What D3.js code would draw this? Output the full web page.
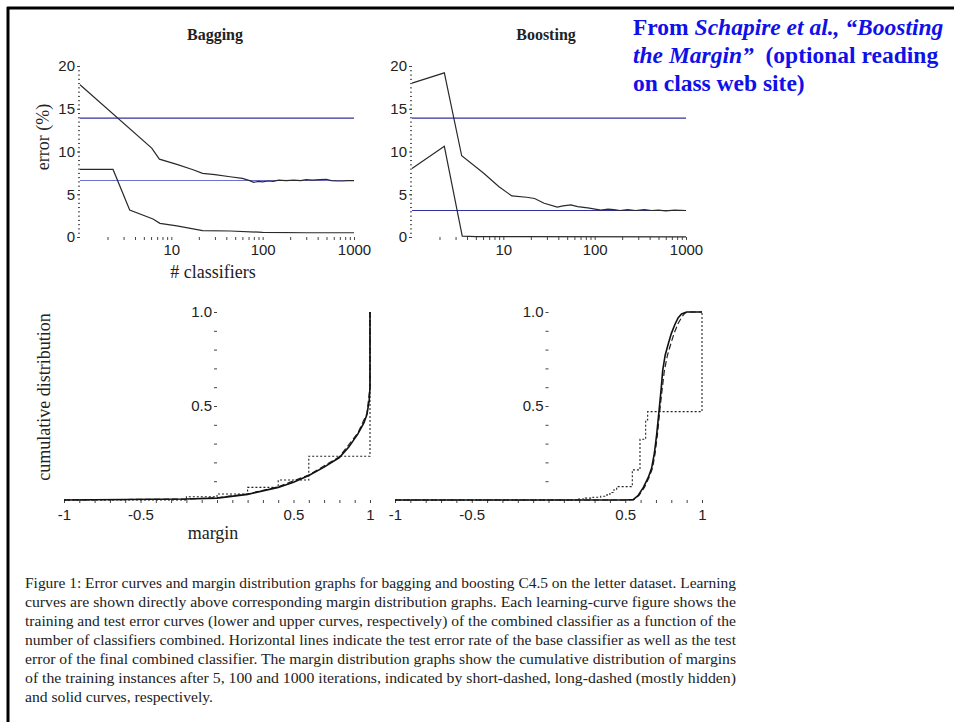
<!DOCTYPE html>
<meta charset="utf-8">
<style>
body { margin: 0; background: #fff; }
.tick text { font-family: "Liberation Sans", Arial, sans-serif; font-size: 15px; fill: #222; }
.tick line { stroke: #444; }
.serif { font-family: "Liberation Serif", "Times New Roman", serif; fill: #222; }
</style>
<body>
<script src="https://d3js.org/d3.v7.min.js"></script>
<script>

const width = 954
const height = 722

// learning curves: [number of classifiers, error %]
const baggingTest = [[1,17.8],[6.1,10.4],[7.4,9.1],[11.5,8.5],[17,7.9],[22,7.45],[30,7.3],[44,7.05],[60,6.85],[72,6.6],[80,6.4],[90,6.5],[100,6.45],[115,6.55],[130,6.5],[150,6.65],[180,6.6],[220,6.65],[260,6.6],[300,6.7],[350,6.65],[420,6.7],[500,6.75],[560,6.6],[650,6.55],[750,6.55],[850,6.6],[1000,6.6]]
const baggingTrain = [[1,7.9],[2.3,7.9],[3.5,3.15],[6.3,2.1],[7.5,1.6],[11.5,1.3],[22,0.75],[44,0.7],[100,0.55],[300,0.5],[1000,0.5]]
const boostingTest = [[1,18],[2.26,19.2],[3.5,9.5],[6.1,7.45],[8.9,5.9],[12.4,4.8],[18,4.65],[22,4.5],[28,3.95],[39,3.5],[45,3.65],[55,3.75],[65,3.55],[84,3.4],[117,3.15],[140,3.25],[162,3.2],[190,3.1],[230,3.2],[280,3.1],[350,3.2],[420,3.1],[500,3.15],[600,3.05],[750,3.15],[1000,3.1]]
const boostingTrain = [[1,8],[2.26,10.6],[3.55,0.1],[5,0.05],[1000,0.02]]

// horizontal reference lines (base classifier, final combined classifier)
const baggingRefs = [13.9, 6.6]
const boostingRefs = [13.9, 3.1]

// margin distributions: [margin, cumulative fraction]
const baggingIter5 = [[-1,0],[-0.2,0.017],[0,0.032],[0.2,0.067],[0.4,0.106],[0.6,0.233],[1,1]]
const baggingIter100 = [[-1,0],[-0.2,0.005],[0,0.012],[0.2,0.032],[0.4,0.07],[0.6,0.133],[0.8,0.23],[0.92,0.355],[0.98,0.46],[1,0.6],[1,1]]
const baggingIter1000 = [[-1,0],[-0.2,0.005],[0,0.01],[0.2,0.03],[0.4,0.067],[0.5,0.095],[0.6,0.13],[0.7,0.175],[0.8,0.226],[0.86,0.28],[0.92,0.35],[0.96,0.41],[0.98,0.455],[0.995,0.53],[1,0.6],[1,1]]
const boostingIter5 = [[-1,0],[0.18,0.005],[0.24,0.01],[0.29,0.015],[0.34,0.02],[0.38,0.027],[0.40,0.04],[0.42,0.053],[0.444,0.071],[0.546,0.16],[0.596,0.323],[0.633,0.426],[0.646,0.47],[1,1]]
const boostingIter100 = [[-1,0],[0.5,0],[0.555,0.002],[0.59,0.025],[0.625,0.067],[0.655,0.12],[0.678,0.17],[0.695,0.25],[0.71,0.35],[0.727,0.49],[0.742,0.6],[0.755,0.69],[0.775,0.77],[0.8,0.84],[0.82,0.89],[0.845,0.94],[0.87,0.975],[0.89,0.995],[0.915,1],[1,1]]
const boostingIter1000 = [[-1,0],[0.5,0],[0.552,0.002],[0.585,0.025],[0.618,0.067],[0.65,0.12],[0.672,0.17],[0.69,0.25],[0.705,0.35],[0.722,0.49],[0.735,0.6],[0.744,0.69],[0.76,0.77],[0.78,0.83],[0.8,0.885],[0.824,0.935],[0.845,0.97],[0.867,0.99],[0.9,1],[1,1]]

const errorTicks = [0, 5, 10, 15, 20]
const countTicks = [10, 100, 1000]
const marginTicks = [-1, -0.5, 0.5, 1]
const cdfTicks = [0.5, 1.0]

const caption = [
  "Figure 1: Error curves and margin distribution graphs for bagging and boosting C4.5 on the letter dataset.  Learning",
  "curves are shown directly above corresponding margin distribution graphs.  Each learning-curve figure shows the",
  "training and test error curves (lower and upper curves, respectively) of the combined classifier as a function of the",
  "number of classifiers combined.  Horizontal lines indicate the test error rate of the base classifier as well as the test",
  "error of the final combined classifier.  The margin distribution graphs show the cumulative distribution of margins",
  "of the training instances after 5, 100 and 1000 iterations, indicated by short-dashed, long-dashed (mostly hidden)",
  "and solid curves, respectively."
]

const svg = d3.select("body").append("svg")
  .attr("width", width)
  .attr("height", height)

// slide frame
svg.append("line").attr("x1", 7).attr("x2", width).attr("y1", 8).attr("y2", 8)
  .attr("stroke", "#000").attr("stroke-width", 3)
svg.append("line").attr("x1", 8).attr("x2", 8).attr("y1", 7).attr("y2", height)
  .attr("stroke", "#000").attr("stroke-width", 3)

// scales
const yErr = d3.scaleLinear().domain([0, 20]).range([237, 66])
const yCdf = d3.scaleLinear().domain([0, 1]).range([500, 312])
const xBagN = d3.scaleLog().domain([1, 1000]).range([80, 354])
const xBoostN = d3.scaleLog().domain([1, 1000]).range([412, 686])
const xBagM = d3.scaleLinear().domain([-1, 1]).range([64, 370])
const xBoostM = d3.scaleLinear().domain([-1, 1]).range([395, 702])

const logMinor = []
for (const dec of [1, 10, 100]) for (let k = 2; k <= 9; k++) logMinor.push(dec * k)

function learningPanel(x, test, train, refs, refColors) {
  const g = svg.append("g")
  // y axis: dotted minor ticks + labelled majors
  g.append("g").attr("transform", `translate(${x.range()[0]},0)`)
    .call(d3.axisLeft(yErr).tickValues(d3.range(0, 20.01, 0.5)).tickSize(2).tickFormat(""))
    .call(a => a.select(".domain").remove())
  g.append("g").attr("transform", `translate(${x.range()[0]},0)`)
    .call(d3.axisLeft(yErr).tickValues(errorTicks).tickSize(3).tickPadding(2).tickFormat(d3.format("d")))
    .call(a => a.select(".domain").remove())
  // x axis: log ticks
  g.append("g").attr("transform", `translate(0,${yErr(0)})`)
    .call(d3.axisBottom(x).tickValues(logMinor).tickSize(3).tickFormat(""))
    .call(a => a.select(".domain").remove())
  g.append("g").attr("transform", `translate(0,${yErr(0)})`)
    .call(d3.axisBottom(x).tickValues(countTicks).tickSize(3).tickPadding(4).tickFormat(d3.format("d")))
    .call(a => a.select(".domain").remove())

  g.selectAll(".ref").data(refs).enter().append("line")
    .attr("x1", x(1)).attr("x2", x(1000))
    .attr("y1", d => yErr(d)).attr("y2", d => yErr(d))
    .attr("stroke", (d, i) => refColors[i]).attr("stroke-width", 1.1)

  const line = d3.line().x(d => x(d[0])).y(d => yErr(d[1]))
  g.selectAll(".curve").data([test, train]).enter().append("path")
    .attr("d", line).attr("fill", "none").attr("stroke", "#2a2a2a").attr("stroke-width", 1.2)
}

function marginPanel(x, iter5, iter100, iter1000) {
  const g = svg.append("g")
  g.append("g").attr("transform", `translate(${x(0)},0)`)
    .call(d3.axisLeft(yCdf).tickValues(d3.range(1, 11).map(i => i / 10)).tickSize(3).tickPadding(2)
      .tickFormat(d => cdfTicks.some(t => Math.abs(t - d) < 1e-9) ? d3.format(".1f")(d) : ""))
    .call(a => a.select(".domain").remove())
  g.append("g").attr("transform", `translate(0,${yCdf(0)})`)
    .call(d3.axisBottom(x).tickValues(d3.range(-10, 11).map(i => i / 10)).tickSize(3).tickPadding(6)
      .tickFormat(d => marginTicks.some(t => Math.abs(t - d) < 1e-9) ? String(Math.round(d * 10) / 10) : ""))
    .call(a => a.select(".domain").remove())

  const smooth = d3.line().x(d => x(d[0])).y(d => yCdf(d[1]))
  const steps = d3.line().x(d => x(d[0])).y(d => yCdf(d[1])).curve(d3.curveStepAfter)
  g.append("path").attr("d", steps(iter5)).attr("fill", "none")
    .attr("stroke", "#222").attr("stroke-width", 1.1).attr("stroke-dasharray", "2,2")
  g.append("path").attr("d", smooth(iter100)).attr("fill", "none")
    .attr("stroke", "#222").attr("stroke-width", 1.2).attr("stroke-dasharray", "6,3")
  g.append("path").attr("d", smooth(iter1000)).attr("fill", "none")
    .attr("stroke", "#111").attr("stroke-width", 1.6)
}

learningPanel(xBagN, baggingTest, baggingTrain, baggingRefs, ["#33339f", "#7070d0"])
learningPanel(xBoostN, boostingTest, boostingTrain, boostingRefs, ["#33339f", "#33339f"])
marginPanel(xBagM, baggingIter5, baggingIter100, baggingIter1000)
marginPanel(xBoostM, boostingIter5, boostingIter100, boostingIter1000)

// titles and axis labels
svg.append("text").attr("class", "serif").attr("x", 215).attr("y", 40)
  .attr("text-anchor", "middle").attr("font-size", 16).attr("font-weight", "bold").text("Bagging")
svg.append("text").attr("class", "serif").attr("x", 546).attr("y", 40)
  .attr("text-anchor", "middle").attr("font-size", 16).attr("font-weight", "bold").text("Boosting")
svg.append("text").attr("class", "serif").attr("transform", "translate(49,137) rotate(-90)")
  .attr("text-anchor", "middle").attr("font-size", 18).text("error (%)")
svg.append("text").attr("class", "serif").attr("x", 213).attr("y", 278)
  .attr("text-anchor", "middle").attr("font-size", 18).text("# classifiers")
svg.append("text").attr("class", "serif").attr("transform", "translate(50,397) rotate(-90)")
  .attr("text-anchor", "middle").attr("font-size", 18).text("cumulative distribution")
svg.append("text").attr("class", "serif").attr("x", 213).attr("y", 539)
  .attr("text-anchor", "middle").attr("font-size", 18).text("margin")

// blue reference note
const note = svg.append("text").attr("font-family", "'Liberation Serif', 'Times New Roman', serif")
  .attr("font-size", 23.5).attr("font-weight", "bold").attr("fill", "#1010e8")
  .style("white-space", "pre")
const l1 = note.append("tspan").attr("x", 633).attr("y", 35)
l1.append("tspan").text("From ")
l1.append("tspan").attr("font-style", "italic").text("Schapire et al., \u201cBoosting")
const l2 = note.append("tspan").attr("x", 633).attr("y", 63)
l2.append("tspan").attr("font-style", "italic").text("the Margin\u201d")
l2.append("tspan").text("  (optional reading")
note.append("tspan").attr("x", 633).attr("y", 91).text("on class web site)")

// caption
svg.append("g").selectAll("text").data(caption).enter().append("text")
  .attr("class", "serif").attr("font-size", 15).attr("fill", "#222")
  .attr("x", 25).attr("y", (d, i) => 588 + i * 19)
  .attr("textLength", (d, i) => i < caption.length - 1 ? 711 : 188)
  .attr("lengthAdjust", "spacingAndGlyphs")
  .text(d => d)

</script>
</body>
</html>
